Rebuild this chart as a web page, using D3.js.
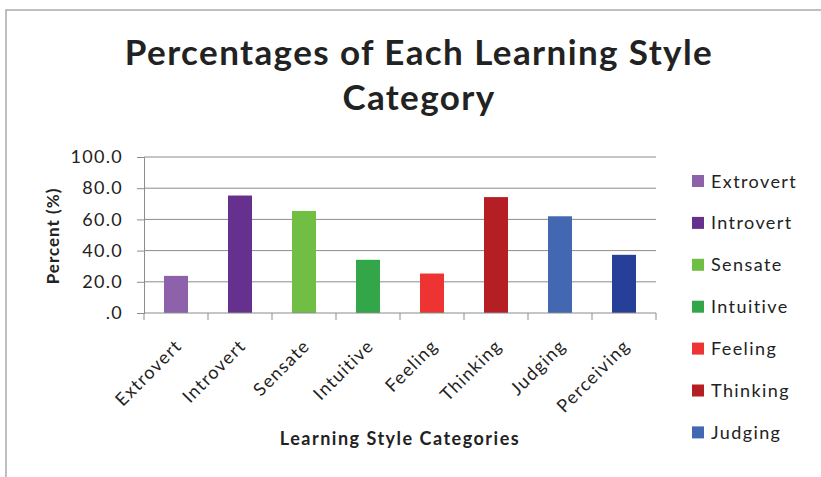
<!DOCTYPE html>
<html>
<head>
<meta charset="utf-8">
<script src="https://cdn.jsdelivr.net/npm/d3@7"></script>
<style>
  body { margin: 0; background: #fff; }
  text { font-family: Lato, "Open Sans", sans-serif; fill: #222; }
</style>
</head>
<body>
<div id="chart"></div>
<script>
var categories = ["Extrovert", "Introvert", "Sensate", "Intuitive", "Feeling", "Thinking", "Judging", "Perceiving"];
var percents = [23.8, 75.3, 65.4, 34.1, 25.3, 74.3, 62.0, 37.3];
var colors = ["#8e62aa", "#66318e", "#70bf44", "#33a64a", "#ee3333", "#b51f24", "#4168b1", "#26409a"];
var yTicks = [0, 20, 40, 60, 80, 100];

var W = 821, H = 477;
var margin = {top: 157, left: 144, right: 165, bottom: 164};
var width = W - margin.left - margin.right,
    height = H - margin.top - margin.bottom;

var svg = d3.select("#chart")
  .append("svg")
    .attr("width", W)
    .attr("height", H);

// outer frame
svg.append("rect")
  .attr("x", 6).attr("y", 10)
  .attr("width", W + 20).attr("height", H + 20)
  .attr("fill", "none")
  .attr("stroke", "#aaa")
  .attr("stroke-width", 1.5);

// title
svg.append("text")
  .attr("x", 419).attr("y", 0)
  .attr("text-anchor", "middle")
  .style("font-weight", "bold")
  .style("font-size", "35px")
  .style("letter-spacing", "1.4px")
  .selectAll("tspan")
  .data(["Percentages of Each Learning Style", "Category"])
  .enter().append("tspan")
    .attr("x", 419)
    .attr("y", (d, i) => 65 + i * 45)
    .text(d => d);

var g = svg.append("g")
  .attr("transform", "translate(" + margin.left + "," + margin.top + ")");

var x = d3.scaleBand()
  .domain(categories)
  .range([0, width])
  .paddingInner(0.625)
  .paddingOuter(0.3125);

var y = d3.scaleLinear()
  .domain([0, 100])
  .range([height, 0]);

// gridlines
g.append("g")
  .selectAll("line")
  .data(yTicks.slice(1))
  .enter().append("line")
    .attr("x1", 0).attr("x2", width)
    .attr("y1", d => y(d)).attr("y2", d => y(d))
    .attr("stroke", "#8c8c8c")
    .attr("stroke-width", 1);

// y axis
var yAxis = g.append("g")
  .call(d3.axisLeft(y).tickValues(yTicks).tickSize(7).tickPadding(14)
    .tickFormat(d => d === 0 ? ".0" : d3.format(".1f")(d)));
yAxis.selectAll("path, line").attr("stroke", "#8c8c8c");
yAxis.selectAll("text")
  .style("font-size", "18px")
  .style("font-family", "Lato, sans-serif")
  .style("letter-spacing", "1.3px")
  .attr("fill", "#222");

// bars
g.selectAll(".bar")
  .data(categories)
  .enter().append("rect")
    .attr("class", "bar")
    .attr("x", d => x(d))
    .attr("width", x.bandwidth())
    .attr("y", (d, i) => y(percents[i]))
    .attr("height", (d, i) => height - y(percents[i]))
    .attr("fill", (d, i) => colors[i]);

// x axis with ticks at category boundaries
var bounds = d3.range(categories.length + 1).map(i => i * width / categories.length);
var xAxis = g.append("g")
  .attr("transform", "translate(0," + height + ")");
xAxis.append("line")
  .attr("x1", 0).attr("x2", width)
  .attr("stroke", "#8c8c8c");
xAxis.selectAll(".tk")
  .data(bounds)
  .enter().append("line")
    .attr("class", "tk")
    .attr("x1", d => d).attr("x2", d => d)
    .attr("y1", 0).attr("y2", 7)
    .attr("stroke", "#8c8c8c");
xAxis.selectAll(".lbl")
  .data(categories)
  .enter().append("text")
    .attr("class", "lbl")
    .attr("text-anchor", "end")
    .style("font-size", "18px")
    .style("letter-spacing", "1.3px")
    .attr("transform", d => "translate(" + (x(d) + x.bandwidth() / 2 + 7) + ",34) rotate(-45)")
    .text(d => d);

// axis titles
svg.append("text")
  .attr("transform", "translate(59,236) rotate(-90)")
  .attr("text-anchor", "middle")
  .style("font-weight", "bold")
  .style("font-size", "17px")
  .style("letter-spacing", "1px")
  .text("Percent (%)");

svg.append("text")
  .attr("x", 400).attr("y", 445)
  .attr("text-anchor", "middle")
  .style("font-weight", "bold")
  .style("font-size", "18px")
  .style("letter-spacing", "1.5px")
  .text("Learning Style Categories");

// legend: only the entries that fit inside the frame are shown, as in the original
var legStep = 41.9, legTop = 181;
var legItems = categories.filter((d, i) => legTop + i * legStep < H - 20);
var legend = svg.append("g")
  .selectAll("g")
  .data(legItems)
  .enter().append("g")
    .attr("transform", (d, i) => "translate(692," + (legTop + i * legStep) + ")");
legend.append("rect")
  .attr("x", 0).attr("y", -6)
  .attr("width", 12).attr("height", 12)
  .attr("fill", (d, i) => colors[i]);
legend.append("text")
  .attr("x", 19).attr("y", 6.5)
  .style("font-size", "18px")
  .style("letter-spacing", "1.4px")
  .text(d => d);
</script>
</body>
</html>
